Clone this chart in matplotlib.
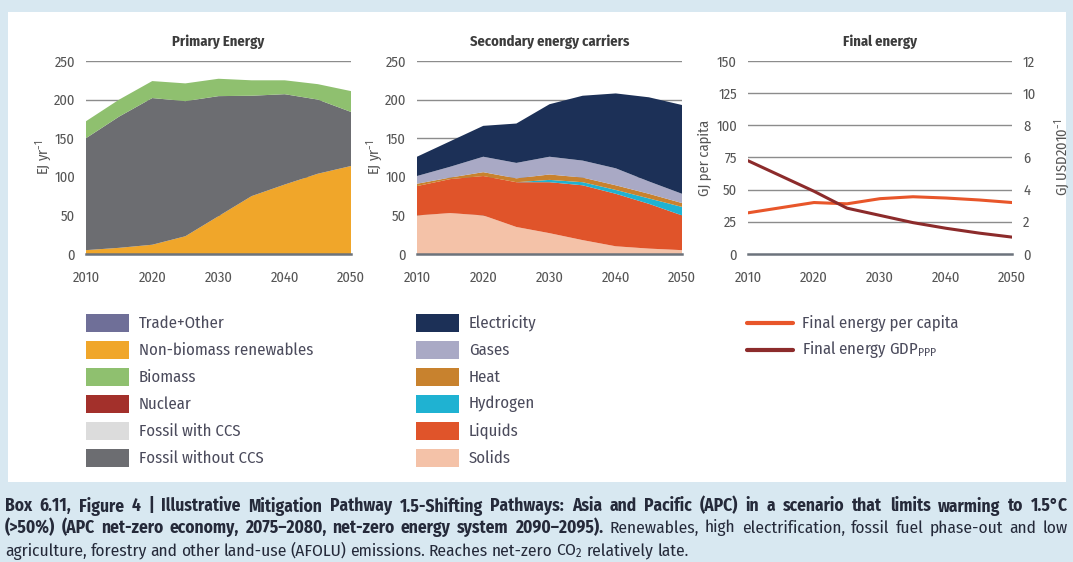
import matplotlib
matplotlib.use("Agg")
import matplotlib.pyplot as plt
from matplotlib import font_manager
from matplotlib.patches import Rectangle
from matplotlib.lines import Line2D

# pick a condensed font, the original uses a condensed humanist face
names = {f.name for f in font_manager.fontManager.ttflist}
FONT = ["DejaVu Sans"]
for cand in ["Fira Sans Condensed", "Roboto Condensed", "Archivo Narrow", "Liberation Sans Narrow"]:
    if cand in names:
        FONT = [cand, "DejaVu Sans"]
        break
plt.rcParams["font.family"] = FONT
plt.rcParams["mathtext.fontset"] = "custom"
plt.rcParams["mathtext.rm"] = FONT[0]
plt.rcParams["mathtext.it"] = FONT[0]

years = [2010, 2015, 2020, 2025, 2030, 2035, 2040, 2045, 2050]

# primary energy (EJ/yr)
pe_renew = [5, 8, 12, 23, 49, 75, 90, 104, 114]
pe_fossil = [145, 170, 190, 175, 155.5, 130, 117, 96, 70]
pe_fossil_ccs = [0, 0, 0, 0, 0, 0, 0, 0, 0]
pe_nuclear = [0, 0, 0, 0, 0, 0, 0, 0, 0]
pe_biomass = [22, 22, 22, 23, 22.5, 20, 18, 20, 27]
pe_trade = [0, 0, 0, 0, 0, 0, 0, 0, 0]

# secondary energy carriers (EJ/yr)
se_solids = [50, 53, 50, 35, 27, 18, 10, 7, 5]
se_liquids = [38, 44, 51, 58, 66, 71, 68, 58, 45]
se_hydrogen = [0, 0, 0, 0, 3, 4, 5, 7, 11]
se_heat = [3, 2, 5, 5, 7, 6, 6, 6, 5]
se_gases = [10, 14, 20, 20, 23, 22, 22, 16, 12]
se_elec = [25, 33, 40, 51, 68, 84, 97, 109, 115]

# final energy
fe_cap = [32, 36, 40, 39, 43, 44.5, 43.5, 42, 40]      # GJ per capita
fe_gdp = [5.8, 4.85, 3.9, 2.85, 2.4, 1.95, 1.6, 1.3, 1.05]  # GJ / USD2010

pe_labels = ["Trade+Other", "Non-biomass renewables", "Biomass", "Nuclear",
             "Fossil with CCS", "Fossil without CCS"]
pe_colors = ["#6f6f98", "#f0a62a", "#8fc06f", "#a3302b", "#dcdcdc", "#6c6d71"]
se_labels = ["Electricity", "Gases", "Heat", "Hydrogen", "Liquids", "Solids"]
se_colors = ["#1c3057", "#a9a9c5", "#c8822e", "#1fb2d2", "#e0542a", "#f4c2a8"]
fe_labels = ["Final energy per capita", "Final energy GDP$_{\\mathregular{PPP}}$"]
fe_colors = ["#e8562a", "#8c2b2b"]

cap1 = ("Box 6.11, Figure 4 | Illustrative Mitigation Pathway 1.5-Shifting Pathways: "
        "Asia and Pacific (APC) in a scenario that limits warming to 1.5°C")
cap2b = "(>50%) (APC net-zero economy, 2075–2080, net-zero energy system 2090–2095)."
cap2 = "Renewables, high electrification, fossil fuel phase-out and low"
cap3 = ("agriculture, forestry and other land-use (AFOLU) emissions. Reaches net-zero "
        "CO$_2$ relatively late.")

W, H = 1073, 562
fig = plt.figure(figsize=(W / 100, H / 100), dpi=100)
fig.patch.set_facecolor("#d8e8f1")
fig.add_artist(Rectangle((8 / W, 1 - 482 / H), (1066 - 8) / W, (482 - 12) / H,
                         transform=fig.transFigure, facecolor="white",
                         edgecolor="none", zorder=0))

tick_c = "#555555"
grid_c = "#8c8c8c"


def box(x0, x1):
    # axes rectangle from pixel coords
    return [x0 / W, 1 - 254 / H, (x1 - x0) / W, (254 - 61) / H]


def style(ax, ymax, step, title):
    ax.set_facecolor("none")
    for s in ax.spines.values():
        s.set_visible(False)
    ax.set_xlim(2010, 2050)
    ax.set_ylim(0, ymax)
    ax.set_xticks(range(2010, 2051, 10))
    ax.set_yticks(range(0, ymax + 1, step))
    for v in range(step, ymax + 1, step):
        ax.axhline(v, color=grid_c, lw=1.0, zorder=0)
    ax.axhline(0, color="#6c737c", lw=1.8, zorder=6, clip_on=False)
    ax.tick_params(length=0, labelsize=10.5, colors=tick_c)
    ax.tick_params(axis="x", pad=12)
    ax.tick_params(axis="y", pad=8)
    ax.set_title(title, fontsize=10.5, fontweight="bold", color="#3c3c3c", pad=11)


# primary energy
ax1 = fig.add_axes(box(86, 351))
ax1.stackplot(years, pe_renew, pe_fossil, pe_fossil_ccs, pe_nuclear, pe_biomass, pe_trade,
              colors=[pe_colors[1], pe_colors[5], pe_colors[4], pe_colors[3],
                      pe_colors[2], pe_colors[0]], lw=0, zorder=2)
style(ax1, 250, 50, "Primary Energy")
ax1.set_ylabel("EJ yr$^{-1}$", fontsize=10.5, color=tick_c, labelpad=0)

# secondary energy carriers
ax2 = fig.add_axes(box(417, 682))
ax2.stackplot(years, se_solids, se_liquids, se_hydrogen, se_heat, se_gases, se_elec,
              colors=se_colors[::-1], lw=0, zorder=2)
style(ax2, 250, 50, "Secondary energy carriers")
ax2.set_ylabel("EJ yr$^{-1}$", fontsize=10.5, color=tick_c, labelpad=0)

# final energy
ax3 = fig.add_axes(box(748, 1012))
style(ax3, 150, 25, "Final energy")
ax3.plot(years, fe_cap, color=fe_colors[0], lw=2.2, zorder=4)
ax3.set_ylabel("GJ per capita", fontsize=10.5, color=tick_c, labelpad=4)
ax3r = ax3.twinx()
for s in ax3r.spines.values():
    s.set_visible(False)
ax3r.set_ylim(0, 12)
ax3r.set_yticks(range(0, 13, 2))
ax3r.tick_params(length=0, labelsize=10.5, colors=tick_c, pad=8)
ax3r.plot(years, fe_gdp, color=fe_colors[1], lw=2.2, zorder=4)
ax3r.set_ylabel("GJ USD2010$^{-1}$", fontsize=10.5, color=tick_c, labelpad=12)

# legends drawn by hand
leg_c = "#4b4b5c"
rows = [323, 350, 377, 404, 431, 458]
for i, y in enumerate(rows):
    for px, tx, labs, cols in [(86, 139, pe_labels, pe_colors), (416, 469, se_labels, se_colors)]:
        fig.add_artist(Rectangle((px / W, 1 - (y + 9) / H), 43 / W, 18 / H,
                                 transform=fig.transFigure, facecolor=cols[i],
                                 edgecolor="none"))
        fig.text(tx / W, 1 - y / H, labs[i], fontsize=12, color=leg_c, va="center")
for i, y in enumerate(rows[:2]):
    fig.add_artist(Line2D([747 / W, 793 / W], [1 - y / H, 1 - y / H], transform=fig.transFigure,
                          color=fe_colors[i], lw=3, solid_capstyle="round"))
    fig.text(802 / W, 1 - y / H, fe_labels[i], fontsize=12, color=leg_c, va="center")

# caption, justified word by word
cap_c = "#252a3a"
renderer = fig.canvas.get_renderer()
X0, X1 = 5, 1068

# size the caption so the first (bold) line just fills the width
probe = fig.text(0, 0, cap1, fontsize=10, fontweight="bold")
cap_size = min(10 * (X1 - X0) / probe.get_window_extent(renderer=renderer).width * 0.99, 12.5)
probe.remove()


def caption_line(y, segments, justify=True, size=cap_size):
    words = []
    for txt, wt in segments:
        for wd in txt.split(" "):
            if wd:
                words.append(fig.text(0, 1 - y / H, wd, fontsize=size, fontweight=wt,
                                      color=cap_c, va="center"))
    widths = [t.get_window_extent(renderer=renderer).width for t in words]
    if justify:
        gap = (X1 - X0 - sum(widths)) / (len(words) - 1)
    else:
        gap = size * 0.3
    x = X0
    for t, w in zip(words, widths):
        t.set_x(x / W)
        x += w + gap


caption_line(506, [(cap1, "bold")])
caption_line(528, [(cap2b, "bold"), (cap2, "normal")])
caption_line(551, [(cap3, "normal")], justify=False)

fig.savefig("out.png", dpi=100, facecolor=fig.get_facecolor())
